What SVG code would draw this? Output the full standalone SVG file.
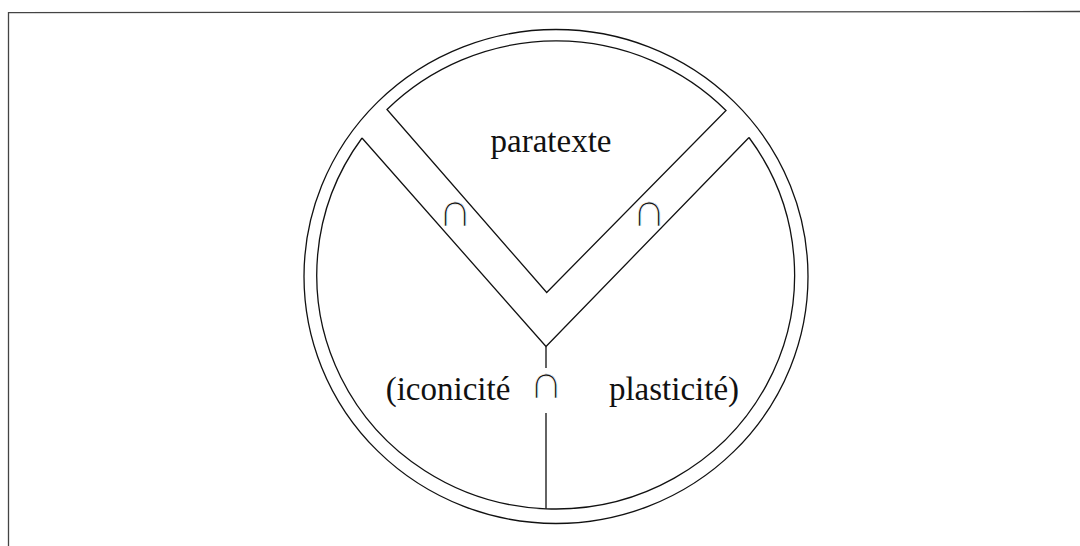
<svg xmlns="http://www.w3.org/2000/svg" width="1080" height="546" viewBox="0 0 1080 546">
  <style>
    .ln { fill: none; stroke: #111; stroke-width: 1.3; stroke-linejoin: miter; }
    .frame { fill: none; stroke: #444; stroke-width: 1.3; }
    .lbl { font-family: "Liberation Serif", "Times New Roman", serif; font-size: 33px; fill: #111; text-anchor: middle; }
    .cap { font-family: "Liberation Serif", "Times New Roman", serif; font-size: 48px; fill: #111; text-anchor: middle; stroke: #fff; stroke-width: 0.8; paint-order: normal; }
  </style>
  <rect width="1080" height="546" fill="#fff"/>
  <g id="frame">
    <polyline class="frame" points="8.5,546 8.5,12.7 1080,11.5"/>
  </g>
  <g id="outer-ring">
    <ellipse class="ln" cx="556" cy="276.5" rx="252" ry="247"/>
  </g>
  <g id="paratexte">
    <path class="ln" d="M387,109.5 A239,234 0 0,1 726,110.5 L546.7,292.5 Z"/>
    <text class="lbl" x="551" y="152">paratexte</text>
  </g>
  <g id="iconicite">
    <path class="ln" d="M362,138 A239,234 0 0,0 546,508.8"/>
    <text class="lbl" x="448" y="400">(iconicité</text>
  </g>
  <g id="plasticite">
    <path class="ln" d="M546,508.8 A239,234 0 0,0 749,137.5"/>
    <text class="lbl" x="674" y="400">plasticité)</text>
  </g>
  <g id="connectors">
    <path class="ln" d="M362,138 L546,346.5 L749,137.5"/>
    <path class="ln" d="M546,346.5 V368 M546,413 V508.8"/>
  </g>
  <g id="intersections">
    <text class="cap" x="455" y="226">∩</text>
    <text class="cap" x="649" y="226">∩</text>
    <text class="cap" x="546" y="398">∩</text>
  </g>
</svg>
